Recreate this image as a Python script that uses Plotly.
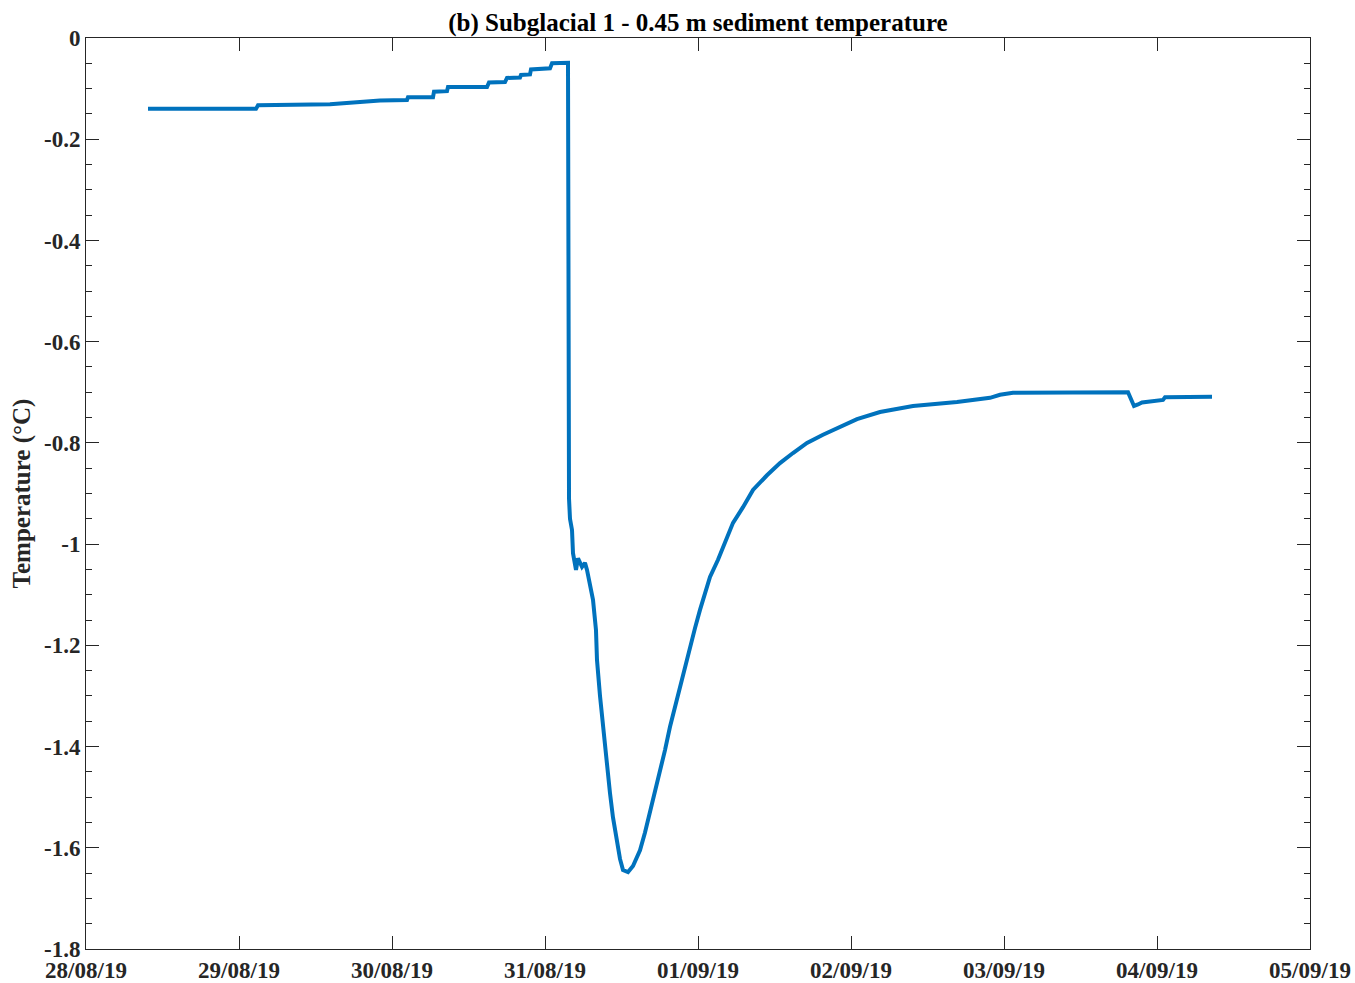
import pandas as pd
import plotly.graph_objects as go

# elapsed days since 28/08/2019 00:00
elapsed_days = [0.4052, 1.1111, 1.1242, 1.5948, 1.9216, 2.0980, 2.1046, 2.2680, 2.2745, 2.3595,
                2.3660, 2.6209, 2.6340, 2.7386, 2.7516, 2.8366, 2.8431, 2.9020, 2.9085, 3.0327,
                3.0458, 3.1503, 3.1569, 3.1634, 3.1765, 3.1830, 3.2026, 3.2157, 3.2418, 3.2614,
                3.2745, 3.2941, 3.3137, 3.3333, 3.3399, 3.3595, 3.3791, 3.3987, 3.4248, 3.4444,
                3.4706, 3.4902, 3.5098, 3.5425, 3.5752, 3.6209, 3.6536, 3.6863, 3.7190, 3.7516,
                3.7843, 3.8170, 3.8497, 3.8824, 3.9150, 3.9477, 3.9804, 4.0131, 4.0458, 4.0784,
                4.1307, 4.1634, 4.2288, 4.2941, 4.3595, 4.4510, 4.5359, 4.6209, 4.7124, 4.8170,
                4.9281, 5.0392, 5.1895, 5.4052, 5.6928, 5.9085, 5.9739, 6.0588, 6.8105, 6.8301,
                6.8497, 6.8758, 6.9020, 7.0392, 7.0523, 7.3595]
temperature = [-0.140, -0.140, -0.133, -0.131, -0.1235, -0.1225, -0.117, -0.117, -0.106, -0.105,
               -0.097, -0.097, -0.088, -0.087, -0.079, -0.078, -0.073, -0.072, -0.062, -0.060,
               -0.050, -0.049, -0.91, -0.95, -0.972, -1.018, -1.051, -1.028, -1.045, -1.037,
               -1.051, -1.077, -1.110, -1.170, -1.229, -1.300, -1.361, -1.430, -1.492, -1.540,
               -1.591, -1.622, -1.644, -1.648, -1.636, -1.605, -1.570, -1.531, -1.492, -1.452,
               -1.407, -1.361, -1.321, -1.282, -1.242, -1.203, -1.166, -1.130, -1.097, -1.065,
               -1.031, -1.006, -0.958, -0.927, -0.893, -0.864, -0.840, -0.820, -0.800, -0.784,
               -0.768, -0.753, -0.739, -0.727, -0.719, -0.711, -0.705, -0.701, -0.700, -0.712,
               -0.727, -0.724, -0.720, -0.715, -0.710, -0.709]

start = pd.Timestamp("2019-08-28 00:00")
times = [start + pd.Timedelta(days=d) for d in elapsed_days]

y_tickvals = [0, -0.2, -0.4, -0.6, -0.8, -1.0, -1.2, -1.4, -1.6, -1.8]
y_ticktext = ["0", "-0.2", "-0.4", "-0.6", "-0.8", "-1", "-1.2", "-1.4", "-1.6", "-1.8"]
x_tickvals = pd.date_range("2019-08-28", "2019-09-05", freq="D")
x_ticktext = [d.strftime("%d/%m/%y") for d in x_tickvals]

font_family = "Liberation Serif, Times New Roman, serif"
axcol = "#262626"

fig = go.Figure()
fig.add_trace(go.Scatter(x=times, y=temperature, mode="lines",
                         line=dict(color="#0072BD", width=4), showlegend=False))

fig.update_layout(
    width=1355, height=983,
    margin=dict(l=86, r=45, t=38, b=34),
    paper_bgcolor="white", plot_bgcolor="white",
    font=dict(family=font_family, size=23, color=axcol),
    title=dict(text="<b>(b) Subglacial 1 - 0.45 m sediment temperature</b>",
               x=0.5151, xanchor="center", y=0.9776, yanchor="middle",
               font=dict(family=font_family, size=25, color="black")),
)
fig.update_xaxes(
    range=[x_tickvals[0], x_tickvals[-1]],
    tickvals=list(x_tickvals), ticktext=[f"<b>{t}</b>" for t in x_ticktext],
    ticks="inside", ticklen=13, tickwidth=1, tickcolor=axcol,
    showline=True, linecolor=axcol, linewidth=1, mirror="ticks",
    showgrid=False, zeroline=False, automargin=False,
    tickfont=dict(family=font_family, size=23, color=axcol),
)
fig.update_yaxes(
    range=[-1.8, 0],
    tickvals=y_tickvals, ticktext=[f"<b>{t}</b>" for t in y_ticktext],
    ticks="inside", ticklen=13, tickwidth=1, tickcolor=axcol,
    minor=dict(tickvals=[-0.05 * i for i in range(37)], ticks="inside", ticklen=6,
               tickcolor=axcol, tickwidth=1, showgrid=False),
    showline=True, linecolor=axcol, linewidth=1, mirror="ticks",
    showgrid=False, zeroline=False, automargin=False,
    tickfont=dict(family=font_family, size=23, color=axcol),
    title=dict(text="<b>Temperature (°C)</b>", standoff=6,
               font=dict(family=font_family, size=25, color=axcol)),
)

fig.write_html("out.html", config={"displayModeBar": False},
               post_script="document.body.style.margin='0';")
